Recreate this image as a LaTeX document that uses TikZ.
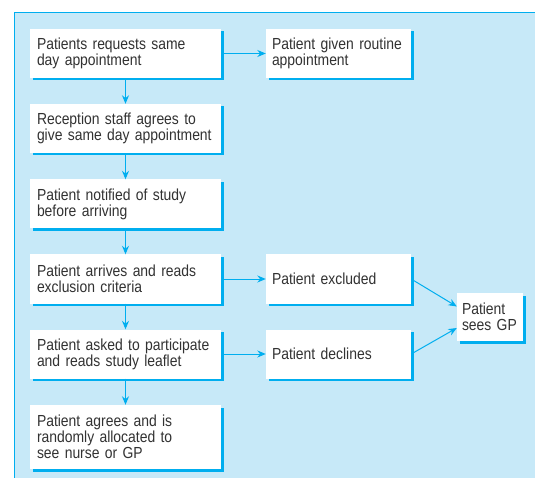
\documentclass[tikz,border=0pt]{standalone}
\usepackage{fontspec}
\setmainfont{Liberation Sans}[FakeStretch=0.87]
\usetikzlibrary{arrows.meta,shadows}

\definecolor{flowcyan}{RGB}{0,174,239}
\definecolor{flowbg}{RGB}{199,233,248}
\definecolor{flowtext}{RGB}{50,50,50}

\tikzset{
    stepbox/.style={rectangle, fill=white, text=flowtext, align=left,
        inner xsep=7pt, inner ysep=0pt, minimum height=49pt,
        font=\fontsize{16}{16}\selectfont,
        drop shadow={shadow xshift=2.5pt, shadow yshift=-2.5pt, fill=flowcyan, opacity=1}},
    flow/.style={draw=flowcyan, line width=1pt, -{Stealth[length=8.5pt, width=7pt]}}
}

\begin{document}
\begin{tikzpicture}[x=1pt, y=-1pt]
    \clip (0, 0) rectangle (535, 478);

    % Panel
    \fill[flowbg] (14, 13) rectangle (545, 490);
    \draw[flowcyan, line width=1pt] (545, 13) -- (14, 13) -- (14, 490);

    % Main column
    \node[stepbox, text width=177pt] (req) at (125.5, 53.5) {Patients requests same\\day appointment};
    \node[stepbox, text width=177pt] (staff) at (125.5, 128.5) {Reception staff agrees to\\give same day appointment};
    \node[stepbox, text width=177pt] (notify) at (125.5, 204) {Patient notified of study\\before arriving};
    \node[stepbox, text width=177pt] (arrive) at (125.5, 279) {Patient arrives and reads\\exclusion criteria};
    \node[stepbox, text width=177pt] (ask) at (125.5, 354) {Patient asked to participate\\and reads study leaflet};
    \node[stepbox, text width=177pt, minimum height=64pt] (agree) at (125.5, 437) {Patient agrees and is\\randomly allocated to\\see nurse or GP};

    % Side branches
    \node[stepbox, text width=133pt, inner xsep=6pt] (routine) at (338.5, 53.5) {Patient given routine\\appointment};
    \node[stepbox, text width=133pt, inner xsep=6pt] (excl) at (338.5, 279) {Patient excluded};
    \node[stepbox, text width=133pt, inner xsep=6pt] (decl) at (338.5, 354) {Patient declines};
    \node[stepbox, text width=56pt, inner xsep=5pt, minimum height=48pt] (gp) at (490, 317) {Patient\\sees GP};

    % Connectors
    \foreach \a/\b in {req/staff, staff/notify, notify/arrive, arrive/ask, ask/agree,
                       req/routine, arrive/excl, ask/decl} {
        \draw[flow] (\a) -- (\b);
    }
    \draw[flow] (excl.east) -- ([yshift=10.5pt]gp.west);
    \draw[flow] (decl.east) -- ([yshift=-11pt]gp.west);
\end{tikzpicture}
\end{document}
